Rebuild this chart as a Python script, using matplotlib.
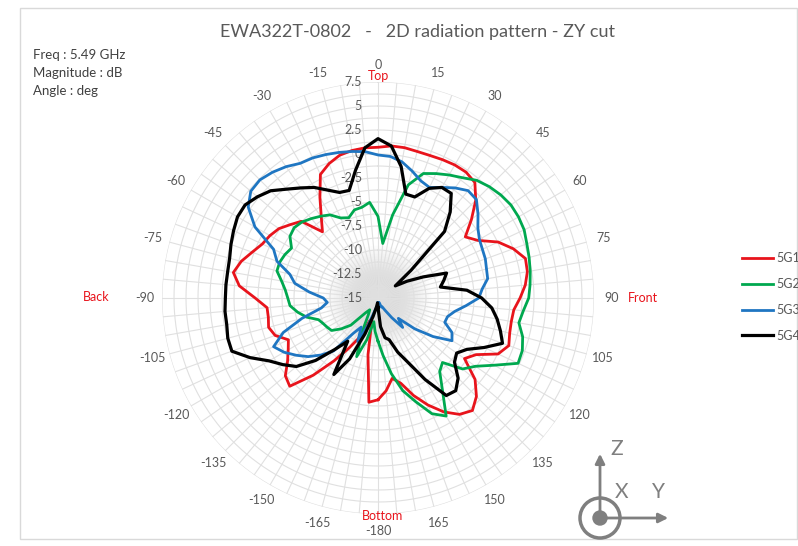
import numpy as np
import matplotlib
matplotlib.use("Agg")
import matplotlib.pyplot as plt
from matplotlib.transforms import ScaledTranslation
from matplotlib.patches import Circle, Rectangle

plt.rcParams['font.family'] = ['Lato', 'DejaVu Sans']

# angles every 5 deg, from -180 to 175
angles_deg = np.arange(-180, 180, 5)

sg1 = [-4.4, -4.1, -9.0, -12.5, -12.5, -10.5, -9.0, -7.0, -4.5, -2.0, -2.4, -3.5,
       -4.2, -4.7, -3.6, -3.2, -3.4, -3.4, -2.2, -0.5, 0.3, -0.25, -1.05, -1.7,
       -2.0, -2.4, -3.1, -3.7, -6.0, -4.7, -2.9, -0.8, -0.1, 0.4, 0.6, 0.7,
       0.7, 0.9, 0.9, 0.8, 0.8, 0.9, 1.0, 1.0, 0.7, -0.6, -2.3, -3.9,
       -3.0, -1.2, 0.0, 0.9, 0.8, 0.4, -0.2, -0.8, -0.9, -0.8, -0.5, -1.2,
       -3.2, -4.0, -1.8, -0.5, 0.3, -0.2, -1.3, -2.7, -4.2, -5.8, -6.5, -5.3]

sg2 = [-10.5, -11.5, -12.5, -10.5, -8.5, -11.0, -13.0, -13.5, -13.0, -11.0, -10.0, -9.1,
       -8.9, -8.7, -8.4, -7.3, -6.5, -5.8, -5.6, -5.3, -4.8, -4.1, -4.1, -4.3,
       -4.6, -3.8, -3.6, -3.8, -4.2, -4.6, -5.0, -5.8, -6.1, -5.5, -5.4, -5.0,
       -6.5, -9.3, -6.2, -2.8, -1.2, -0.7, -0.2, 0.3, 1.0, 1.4, 1.7, 1.9,
       1.9, 1.8, 1.5, 1.3, 1.1, 0.9, 0.7, 0.2, -0.1, 0.6, 1.0, 1.1,
       -1.0, -2.6, -3.5, -5.5, -5.0, -3.3, -0.8, -1.7, -3.5, -5.0, -7.0, -9.0]

sg3 = [-14.5, -14.0, -14.0, -13.5, -12.0, -10.0, -11.5, -10.5, -7.8, -6.6, -5.5, -4.6,
       -3.7, -3.0, -4.5, -6.8, -9.0, -9.7, -9.3, -7.8, -6.2, -5.5, -3.8, -3.0,
       -0.2, 1.5, 2.3, 2.4, 2.1, 1.7, 1.2, 1.1, 0.9, 0.7, 0.5, 0.3,
       -0.1, -0.2, -0.6, -1.3, -2.0, -2.3, -1.7, -1.0, -0.4, -0.5, -1.4, -2.3,
       -2.8, -3.0, -3.1, -3.3, -3.4, -4.1, -4.5, -5.8, -6.9, -7.5, -7.6, -6.5,
       -6.1, -8.0, -10.0, -12.0, -11.0, -12.5, -13.5, -14.0, -14.0, -14.5, -14.5, -14.5]

sg4 = [-14.0, -14.5, -14.0, -13.0, -11.0, -8.0, -5.8, -9.5, -8.0, -5.8, -3.9, -2.9,
       -1.9, -0.3, 1.2, 1.2, 1.0, 1.0, 0.9, 0.9, 0.9, 1.0, 1.3, 1.6,
       1.9, 1.9, 1.4, 0.8, -0.2, -1.0, -1.7, -2.6, -3.3, -3.4, -1.5, 0.7,
       1.6, 0.9, -1.1, -3.8, -3.8, -2.4, -1.7, -1.7, -3.3, -5.2, -10.5, -12.8,
       -11.5, -9.8, -7.4, -7.9, -8.4, -5.7, -4.2, -3.1, -2.4, -1.8, -1.2, -2.8,
       -4.3, -5.0, -4.6, -3.2, -2.4, -2.6, -5.2, -7.6, -9.0, -10.5, -10.8, -12.0]

series_names = ["5G1", "5G2", "5G3", "5G4"]
series_colors = ["#e8141c", "#00a84f", "#1f76c2", "#000000"]

r_ticks = [-15, -12.5, -10, -7.5, -5, -2.5, 0, 2.5, 5, 7.5]
angle_ticks = [0, 15, 30, 45, 60, 75, 90, 105, 120, 135, 150, 165,
               180, -165, -150, -135, -120, -105, -90, -75, -60, -45, -30, -15]

W, H = 798, 546
fig = plt.figure(figsize=(W / 100, H / 100), dpi=100)

# overlay in pixel coordinates for border and axis icon
over = fig.add_axes([0, 0, 1, 1])
over.set_xlim(0, W)
over.set_ylim(H, 0)
over.axis("off")
over.add_patch(Rectangle((20, 8), 777, 531, fill=False, ec="#d9d9d9", lw=1))

cx, cy, R = 378, 298, 216
ax = fig.add_axes([(cx - R) / W, (H - cy - R) / H, 2 * R / W, 2 * R / H], projection="polar")
ax.set_theta_zero_location("N")
ax.set_theta_direction(-1)
ax.set_ylim(-15, 7.5)
ax.grid(False)
ax.set_xticks([])
ax.set_yticks([])
ax.spines["polar"].set_visible(False)
ax.patch.set_alpha(0)

th = np.linspace(0, 2 * np.pi, 361)
# grey shading at the centre
for i in range(20):
    ax.fill_between(th, -15, -15 + 5.5 * (i + 1) / 20, color="#8c8c8c", alpha=0.025, lw=0, zorder=0.5)

# grid: rings every 1.25 dB, spokes every 5 deg
for rv in np.arange(-15 + 1.25, 7.5 + 0.01, 1.25):
    ax.plot(th, np.full_like(th, rv), color="#e0e0e0", lw=0.8, zorder=1)
for a in range(0, 360, 5):
    ax.plot([np.deg2rad(a)] * 2, [-15, 7.5], color="#e0e0e0", lw=0.8, zorder=1)

# radial labels
off = ax.transData + ScaledTranslation(-0.16, 0, fig.dpi_scale_trans)
for rv in r_ticks:
    ax.text(0, rv, f"{rv:g}", transform=off, ha="right", va="center",
            fontsize=9, color="#595959", zorder=1.5)

# angle labels
for a in angle_ticks:
    lab = "-180" if a == 180 else str(a)
    ax.text(np.deg2rad(a), 9.3, lab, ha="center", va="center", fontsize=9, color="#595959")

# series
th_data = np.deg2rad(np.append(angles_deg, angles_deg[0]))
for vals, name, col in zip([sg1, sg2, sg3, sg4], series_names, series_colors):
    v = np.append(vals, vals[0])
    ax.plot(th_data, v, color=col, lw=2.0 if col != "#000000" else 2.3, label=name, zorder=3)

leg = fig.legend(loc="center left", bbox_to_anchor=(742 / W, 1 - 297 / H), frameon=False,
                 fontsize=9, handlelength=2.5, handletextpad=0.25, labelspacing=1.1,
                 borderpad=0, borderaxespad=0)
for t in leg.get_texts():
    t.set_color("#595959")

fig.text(418 / W, 1 - 32 / H, "EWA322T-0802   -   2D radiation pattern - ZY cut",
         ha="center", va="center", fontsize=13, color="#595959")
fig.text(33 / W, 1 - 55 / H, "Freq : 5.49 GHz", ha="left", va="center", fontsize=9.5, color="#404040")
fig.text(33 / W, 1 - 73 / H, "Magnitude : dB", ha="left", va="center", fontsize=9.5, color="#404040")
fig.text(33 / W, 1 - 91 / H, "Angle : deg", ha="left", va="center", fontsize=9.5, color="#404040")

red = "#e8141c"
fig.text(378 / W, 1 - 76 / H, "Top", ha="center", va="center", fontsize=9, color=red)
fig.text(383 / W, 1 - 516 / H, "Bottom", ha="center", va="center", fontsize=9, color=red)
fig.text(628 / W, 1 - 298 / H, "Front", ha="left", va="center", fontsize=9, color=red)
fig.text(110 / W, 1 - 297 / H, "Back", ha="right", va="center", fontsize=9, color=red)

# axis icon
ic = "#7f7f7f"
over.add_patch(Circle((600, 518), 20, fill=False, ec=ic, lw=2.5))
over.add_patch(Circle((600, 518), 7, color=ic))
over.annotate("", xy=(600, 451), xytext=(600, 518),
              arrowprops=dict(arrowstyle="-|>", color=ic, lw=2.0, mutation_scale=14))
over.annotate("", xy=(671, 518), xytext=(600, 518),
              arrowprops=dict(arrowstyle="-|>", color=ic, lw=2.0, mutation_scale=14))
over.text(617, 449, "Z", ha="center", va="center", fontsize=15, color=ic)
over.text(622, 492, "X", ha="center", va="center", fontsize=15, color=ic)
over.text(658, 492, "Y", ha="center", va="center", fontsize=15, color=ic)

fig.savefig("out.png", dpi=100)
